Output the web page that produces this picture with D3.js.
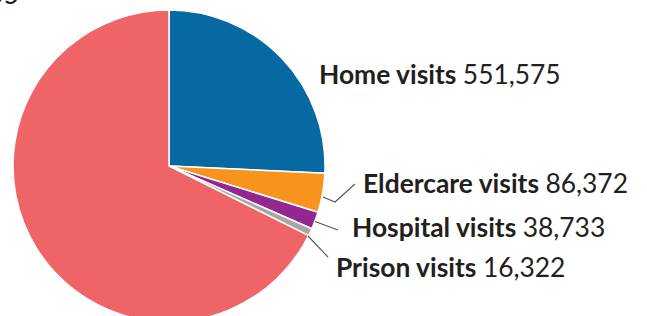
<!DOCTYPE html>
<html><head><meta charset="utf-8">
<script src="https://cdn.jsdelivr.net/npm/d3@7"></script>
<style>html,body{margin:0;padding:0;background:#fff;overflow:hidden}</style>
</head><body>
<svg id="c" width="647" height="316"></svg>
<script>
const categories = ["Home visits","Eldercare visits","Hospital visits","Prison visits","Clinic visits"];
const values = [551575, 86372, 38733, 16322, 1448855];
const colors = ["#0769a2","#f7941e","#93278f","#a6a6a6","#ef6467"];

const svg = d3.select("#c");
const cx = 169, cy = 166, r = 156;
const g = svg.append("g").attr("transform",`translate(${cx},${cy})`);
const pie = d3.pie().sort(null).value(d=>d.v);
const data = pie(categories.map((c,i)=>({c, v:values[i], col:colors[i]})));
const arc = d3.arc().innerRadius(0).outerRadius(r);
g.selectAll("path").data(data).join("path")
  .attr("d",arc).attr("fill",d=>d.data.col)
  .attr("stroke","#fff").attr("stroke-width",1.5).attr("stroke-linejoin","round");

const fmt = d3.format(",");
const labelPos = [
  {x:319, y:84, line:null},
  {x:363, y:193, line:[[323,197],[335,202],[355,184]]},
  {x:352, y:237, line:[[315,221.5],[338,230]]},
  {x:336, y:277, line:[[308,236],[328,257]]},
  {x:19, y:4, line:null, anchor:"end"}
];
data.forEach((d,i)=>{
  const p = labelPos[i];
  if(p.line){
    svg.append("path").attr("d",d3.line()(p.line)).attr("fill","none")
      .attr("stroke","#555").attr("stroke-width",1.1);
  }
  const t = svg.append("text").attr("x",p.x).attr("y",p.y)
    .attr("text-anchor",p.anchor||"start")
    .style("font-family","Lato, 'Open Sans', sans-serif").style("font-size","26.4px").attr("fill","#231f20");
  t.append("tspan").style("font-weight","bold").text(d.data.c+" ");
  t.append("tspan").text(fmt(d.data.v));
});
</script>
</body></html>
